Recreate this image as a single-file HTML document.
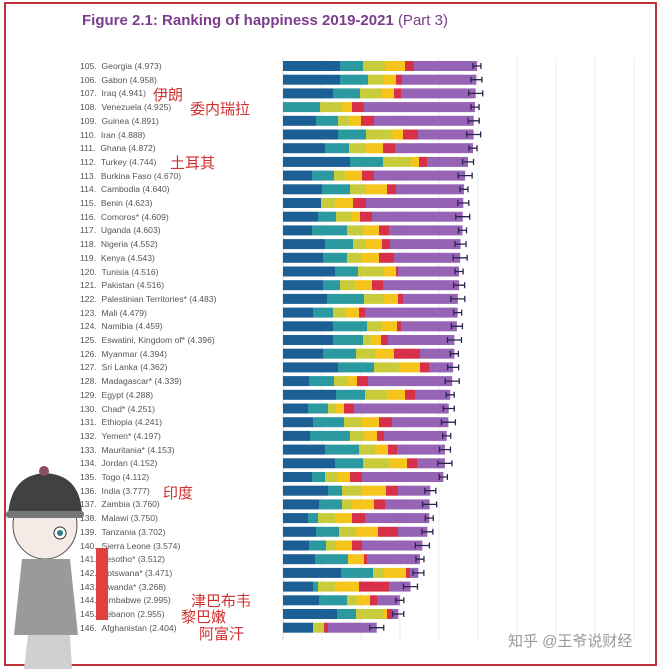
<!DOCTYPE html>
<html><head><meta charset="utf-8"><style>
body{margin:0;width:660px;height:669px;background:#fff;position:relative;overflow:hidden;font-family:"Liberation Sans","Noto Sans CJK SC",sans-serif}
.frame{position:absolute;left:4px;top:2px;width:649px;height:660px;border:2px solid #c0303a;box-sizing:content-box}
.t{position:absolute;left:82px;top:12px;font-size:15px;color:#7b3d8c;font-weight:bold}
.t span{font-weight:normal}
.lab{position:absolute;font-size:8.6px;color:#555;white-space:nowrap}
.cn{position:absolute;font-size:15px;color:#d03030;white-space:nowrap}
.wm{position:absolute;left:508px;top:630px;font-size:15px;color:#999;white-space:nowrap}
</style></head><body>
<div class="frame"></div>
<div class="t">Figure 2.1: Ranking of happiness 2019-2021 <span>(Part 3)</span></div>
<svg id="s" width="660" height="669" style="position:absolute;left:0;top:0"></svg>
<div id="labs">
<div class="lab" style="left:80px;top:61px">105.&nbsp;&nbsp;Georgia (4.973)</div>
<div class="lab" style="left:80px;top:74.7px">106.&nbsp;&nbsp;Gabon (4.958)</div>
<div class="lab" style="left:80px;top:88.4px">107.&nbsp;&nbsp;Iraq (4.941)</div>
<div class="lab" style="left:80px;top:102.1px">108.&nbsp;&nbsp;Venezuela (4.925)</div>
<div class="lab" style="left:80px;top:115.8px">109.&nbsp;&nbsp;Guinea (4.891)</div>
<div class="lab" style="left:80px;top:129.5px">110.&nbsp;&nbsp;Iran (4.888)</div>
<div class="lab" style="left:80px;top:143.2px">111.&nbsp;&nbsp;Ghana (4.872)</div>
<div class="lab" style="left:80px;top:156.9px">112.&nbsp;&nbsp;Turkey (4.744)</div>
<div class="lab" style="left:80px;top:170.6px">113.&nbsp;&nbsp;Burkina Faso (4.670)</div>
<div class="lab" style="left:80px;top:184.3px">114.&nbsp;&nbsp;Cambodia (4.640)</div>
<div class="lab" style="left:80px;top:198px">115.&nbsp;&nbsp;Benin (4.623)</div>
<div class="lab" style="left:80px;top:211.7px">116.&nbsp;&nbsp;Comoros* (4.609)</div>
<div class="lab" style="left:80px;top:225.4px">117.&nbsp;&nbsp;Uganda (4.603)</div>
<div class="lab" style="left:80px;top:239.1px">118.&nbsp;&nbsp;Nigeria (4.552)</div>
<div class="lab" style="left:80px;top:252.8px">119.&nbsp;&nbsp;Kenya (4.543)</div>
<div class="lab" style="left:80px;top:266.5px">120.&nbsp;&nbsp;Tunisia (4.516)</div>
<div class="lab" style="left:80px;top:280.2px">121.&nbsp;&nbsp;Pakistan (4.516)</div>
<div class="lab" style="left:80px;top:293.9px">122.&nbsp;&nbsp;Palestinian Territories* (4.483)</div>
<div class="lab" style="left:80px;top:307.6px">123.&nbsp;&nbsp;Mali (4.479)</div>
<div class="lab" style="left:80px;top:321.3px">124.&nbsp;&nbsp;Namibia (4.459)</div>
<div class="lab" style="left:80px;top:335px">125.&nbsp;&nbsp;Eswatini, Kingdom of* (4.396)</div>
<div class="lab" style="left:80px;top:348.7px">126.&nbsp;&nbsp;Myanmar (4.394)</div>
<div class="lab" style="left:80px;top:362.4px">127.&nbsp;&nbsp;Sri Lanka (4.362)</div>
<div class="lab" style="left:80px;top:376.1px">128.&nbsp;&nbsp;Madagascar* (4.339)</div>
<div class="lab" style="left:80px;top:389.8px">129.&nbsp;&nbsp;Egypt (4.288)</div>
<div class="lab" style="left:80px;top:403.5px">130.&nbsp;&nbsp;Chad* (4.251)</div>
<div class="lab" style="left:80px;top:417.2px">131.&nbsp;&nbsp;Ethiopia (4.241)</div>
<div class="lab" style="left:80px;top:430.9px">132.&nbsp;&nbsp;Yemen* (4.197)</div>
<div class="lab" style="left:80px;top:444.6px">133.&nbsp;&nbsp;Mauritania* (4.153)</div>
<div class="lab" style="left:80px;top:458.3px">134.&nbsp;&nbsp;Jordan (4.152)</div>
<div class="lab" style="left:80px;top:472px">135.&nbsp;&nbsp;Togo (4.112)</div>
<div class="lab" style="left:80px;top:485.7px">136.&nbsp;&nbsp;India (3.777)</div>
<div class="lab" style="left:80px;top:499.4px">137.&nbsp;&nbsp;Zambia (3.760)</div>
<div class="lab" style="left:80px;top:513.1px">138.&nbsp;&nbsp;Malawi (3.750)</div>
<div class="lab" style="left:80px;top:526.8px">139.&nbsp;&nbsp;Tanzania (3.702)</div>
<div class="lab" style="left:80px;top:540.5px">140.&nbsp;&nbsp;Sierra Leone (3.574)</div>
<div class="lab" style="left:80px;top:554.2px">141.&nbsp;&nbsp;Lesotho* (3.512)</div>
<div class="lab" style="left:80px;top:567.9px">142.&nbsp;&nbsp;Botswana* (3.471)</div>
<div class="lab" style="left:80px;top:581.6px">143.&nbsp;&nbsp;Rwanda* (3.268)</div>
<div class="lab" style="left:80px;top:595.3px">144.&nbsp;&nbsp;Zimbabwe (2.995)</div>
<div class="lab" style="left:80px;top:609px">145.&nbsp;&nbsp;Lebanon (2.955)</div>
<div class="lab" style="left:80px;top:622.7px">146.&nbsp;&nbsp;Afghanistan (2.404)</div>
</div>
<div class="cn" style="left:153px;top:84px">伊朗</div>
<div class="cn" style="left:190px;top:98px">委内瑞拉</div>
<div class="cn" style="left:170px;top:152px">土耳其</div>
<div class="cn" style="left:163px;top:482px">印度</div>
<div class="cn" style="left:191px;top:590px">津巴布韦</div>
<div class="cn" style="left:181px;top:606px">黎巴嫩</div>
<div class="cn" style="left:199px;top:623px">阿富汗</div>
<svg width="100" height="215" style="position:absolute;left:0;top:455px">
<ellipse cx="45" cy="70" rx="32" ry="34" fill="#f4ebe6" stroke="#555"/>
<path d="M8 62 Q10 20 45 18 Q82 20 82 62 Z" fill="#3f423f"/>
<rect x="6" y="56" width="78" height="7" rx="3" fill="#777"/>
<circle cx="44" cy="16" r="5" fill="#8a5060"/>
<circle cx="60" cy="78" r="6" fill="#fff" stroke="#333"/>
<circle cx="60" cy="78" r="3" fill="#2e7f8a"/>
<path d="M22 104 L70 104 L78 180 L14 180 Z" fill="#9a9a9a"/>
<path d="M28 180 L70 180 L72 214 L24 214 Z" fill="#d0d0d0"/>
<rect x="96" y="93" width="12" height="70" fill="#e03a3a"/>
</svg>
<div style="position:absolute;left:96px;top:548px;width:12px;height:72px;background:#e04040"></div>
<div class="wm">知乎 @王爷说财经</div>
<script>
var d=[
[4.973,57,23,23,19,9],[4.958,57,28,15,13,6],[4.941,50,27,21,13,7],[4.925,0,37,21,11,12],
[4.891,33,22,11,12,13],[4.888,55,28,25,12,15],[4.872,42,24,16,18,12],[4.744,67,33,28,8,8],
[4.670,29,22,11,17,12],[4.640,39,28,16,21,9],[4.623,38,0,14,18,13],[4.609,35,18,16,8,12],
[4.603,29,35,17,15,10],[4.552,42,28,12,17,8],[4.543,40,24,14,18,15],[4.516,52,23,26,12,2],
[4.516,40,17,15,17,11],[4.483,44,37,20,14,5],[4.479,30,20,13,13,6],[4.459,50,34,14,16,4],
[4.396,50,30,8,10,7],[4.394,40,33,19,19,26],[4.362,55,36,25,21,9],[4.339,26,25,14,9,11],
[4.288,53,29,22,18,10],[4.251,25,20,8,8,10],[4.241,30,31,18,17,13],[4.197,27,40,14,13,7],
[4.153,42,34,16,13,9],[4.152,52,28,26,18,10],[4.112,29,13,13,12,12],[3.777,45,14,19,25,12],
[3.760,36,23,10,22,11],[3.750,25,10,17,17,13],[3.702,33,23,17,22,20],[3.574,26,17,10,16,10],
[3.512,32,33,0,16,3],[3.471,58,32,11,22,4],[3.268,30,5,17,24,30],[2.995,36,28,10,13,7],
[2.955,54,19,28,3,5],[2.404,30,0,11,0,4]];
var c=["#1c5f94","#2a9aa0","#c9cc3a","#f6c51c","#d9304a","#9663b5"];
var h='';
for(var k=1;k<=9;k++){var gx=283+39*k;h+='<line x1="'+gx+'" y1="58" x2="'+gx+'" y2="640" stroke="#eee" stroke-width="1"/>';}
h+='<line x1="283" y1="58" x2="283" y2="640" stroke="#ddd"/>';
for(var i=0;i<d.length;i++){var y=61+13.7*i,x=283,r=d[i],tot=r[0]*39;
for(var j=1;j<=5;j++){h+='<rect x="'+x+'" y="'+y+'" width="'+r[j]+'" height="10" fill="'+c[j-1]+'"/>';x+=r[j];}
var e=283+tot;h+='<rect x="'+x+'" y="'+y+'" width="'+(e-x)+'" height="10" fill="'+c[5]+'"/>';
var ew=4+(i%3)*1.5,cy=y+5;
h+='<path d="M'+(e-ew)+' '+cy+'H'+(e+ew)+'M'+(e-ew)+' '+(cy-3)+'V'+(cy+3)+'M'+(e+ew)+' '+(cy-3)+'V'+(cy+3)+'" stroke="#2a2550" stroke-width="1.3" fill="none"/>';}
document.getElementById('s').innerHTML=h;
</script>
</body></html>
